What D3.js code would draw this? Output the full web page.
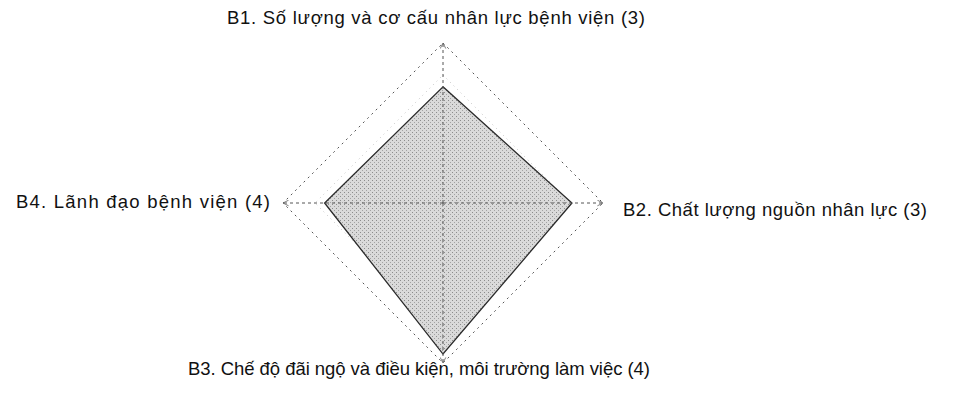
<!DOCTYPE html>
<html><head><meta charset="utf-8">
<script src="https://cdn.jsdelivr.net/npm/d3@7"></script>
<style>
html,body{margin:0;padding:0;background:#fff;}
text{font-family:"Liberation Sans",Arial,sans-serif;fill:#111;}
</style></head>
<body><svg id="c" width="960" height="394"></svg>
<script>
const categories = [
  "B1. Số lượng và cơ cấu nhân lực bệnh viện (3)",
  "B2. Chất lượng nguồn nhân lực (3)",
  "B3. Chế độ đãi ngộ và điều kiện, môi trường làm việc (4)",
  "B4. Lãnh đạo bệnh viện (4)"
];
const values = [3.63, 4.03, 4.72, 3.7];
const gridLevels = [1, 2, 3, 4, 5];
const maxValue = 5;

const svg = d3.select("#c");
const cx = 443, cy = 203, R = 160;
const r = d3.scaleLinear().domain([0, maxValue]).range([0, R]);
const angle = i => -Math.PI / 2 + i * 2 * Math.PI / categories.length;
const pt = (i, v) => [cx + r(v) * Math.cos(angle(i)), cy + r(v) * Math.sin(angle(i))];

const defs = svg.append("defs");
defs.append("marker").attr("id", "arr").attr("viewBox", "0 0 10 10")
  .attr("refX", 9).attr("refY", 5).attr("markerWidth", 7).attr("markerHeight", 7)
  .attr("orient", "auto")
  .append("path").attr("d", "M1,1 L9,5 L1,9").attr("fill", "none")
  .attr("stroke", "#666").attr("stroke-width", 1.2);

const pat = defs.append("pattern").attr("id", "ht").attr("width", 4).attr("height", 4)
  .attr("patternUnits", "userSpaceOnUse");
pat.append("rect").attr("width", 4).attr("height", 4).attr("fill", "#d6d6d6");
pat.append("rect").attr("x", 0).attr("y", 0).attr("width", 1).attr("height", 1).attr("fill", "#808080");
pat.append("rect").attr("x", 2).attr("y", 2).attr("width", 1).attr("height", 1).attr("fill", "#999");

const line = d3.line().curve(d3.curveLinearClosed);

svg.append("g").selectAll("path").data(gridLevels).join("path")
  .attr("d", lv => line(categories.map((c, i) => pt(i, lv))))
  .attr("fill", "none")
  .attr("stroke", lv => lv === maxValue ? "#555" : "#b5b5b5")
  .attr("stroke-width", lv => lv === maxValue ? 1 : 0.8)
  .attr("stroke-dasharray", lv => lv === maxValue ? "2,4" : "1,4");

svg.append("path")
  .attr("d", line(values.map((v, i) => pt(i, v))))
  .attr("fill", "url(#ht)")
  .attr("fill-opacity", 0.9)
  .attr("stroke", "#2a2a2a").attr("stroke-width", 1.3);

svg.append("g").selectAll("line").data(categories).join("line")
  .attr("x1", cx).attr("y1", cy)
  .attr("x2", (c, i) => pt(i, maxValue)[0]).attr("y2", (c, i) => pt(i, maxValue)[1])
  .attr("stroke", "#555").attr("stroke-width", 1)
  .attr("stroke-dasharray", "3,3")
  .attr("marker-end", "url(#arr)");

const labelPos = [
  {x: 436, y: 24, anchor: "middle", w: 418},
  {x: 623, y: 216, anchor: "start", w: 304},
  {x: 419, y: 375, anchor: "middle", w: 462},
  {x: 16, y: 208, anchor: "start", w: 254}
];
svg.append("g").selectAll("text").data(categories).join("text")
  .attr("x", (c, i) => labelPos[i].x).attr("y", (c, i) => labelPos[i].y)
  .attr("text-anchor", (c, i) => labelPos[i].anchor)
  .attr("font-size", 18.5)
  .attr("textLength", (c, i) => labelPos[i].w)
  .attr("lengthAdjust", "spacing")
  .text(c => c);
</script></body></html>
